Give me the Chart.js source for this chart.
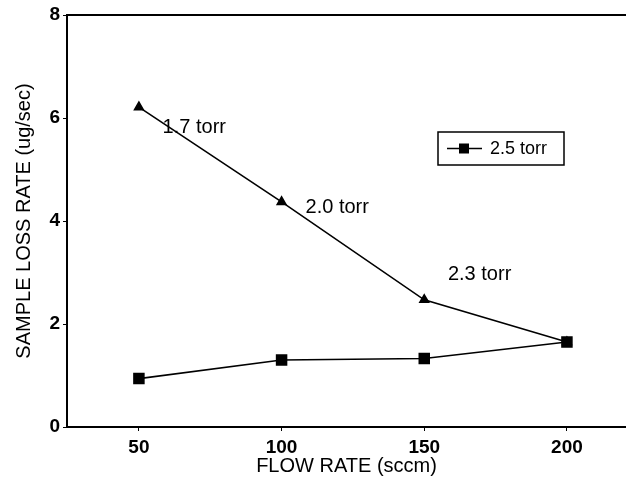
<!DOCTYPE html>
<html>
<head>
<meta charset="utf-8">
<script src="https://cdn.jsdelivr.net/npm/chart.js@4/dist/chart.umd.min.js"></script>
<style>
  html, body { margin: 0; padding: 0; background: #fff; }
  #wrap { width: 626px; height: 480px; }
</style>
</head>
<body>
<div id="wrap"><canvas id="myChart" width="626" height="480"></canvas></div>
<script>
// flow rate (sccm)
var flowRates = [50, 100, 150, 200];
// sample loss rate (ug/sec)
var varPressure = [6.21, 4.37, 2.47, 1.65];   // triangles, pressure changes with flow
var fixedPressure = [0.94, 1.30, 1.33, 1.65]; // squares, 2.5 torr
var xTicks = [50, 100, 150, 200];
var yTicks = [0, 2, 4, 6, 8];
// pressure notes along the triangle curve
var noteText = ["1.7 torr", "2.0 torr", "2.3 torr"];
var noteX = [58.3, 108.4, 158.3];
var noteY = [5.81, 4.26, 2.96];

var FONT = "'Liberation Sans', Arial, sans-serif";

function pts(xs, ys) {
    var out = [];
    for (var i = 0; i < xs.length; i++) out.push({x: xs[i], y: ys[i]});
    return out;
}

var extras = {
    id: 'extras',
    afterDraw: function(c) {
        var ctx = c.ctx, a = c.chartArea, xs = c.scales.x, ys = c.scales.y;
        ctx.save();
        // top frame line
        ctx.strokeStyle = '#000';
        ctx.lineWidth = 2;
        ctx.beginPath();
        ctx.moveTo(a.left, a.top);
        ctx.lineTo(c.width, a.top);
        ctx.stroke();

        // text notes
        ctx.fillStyle = '#000';
        ctx.font = '20px ' + FONT;
        ctx.textBaseline = 'middle';
        ctx.textAlign = 'left';
        for (var i = 0; i < noteText.length; i++) {
            ctx.fillText(noteText[i], xs.getPixelForValue(noteX[i]), ys.getPixelForValue(noteY[i]));
        }

        // legend box
        var lx = 438, ly = 132, lw = 126, lh = 33;
        ctx.lineWidth = 1.5;
        ctx.strokeRect(lx, ly, lw, lh);
        var my = ly + lh / 2;
        ctx.beginPath();
        ctx.moveTo(lx + 9, my);
        ctx.lineTo(lx + 44, my);
        ctx.stroke();
        ctx.fillRect(lx + 21, my - 5, 10, 10);
        ctx.font = '18px ' + FONT;
        ctx.fillText(c.data.datasets[1].label, lx + 52, my + 1);
        ctx.restore();
    }
};

var ctx = document.getElementById('myChart').getContext('2d');
var chart = new Chart(ctx, {
    type: 'line',
    data: {
        datasets: [{
            label: 'variable pressure',
            data: pts(flowRates, varPressure),
            borderColor: '#000',
            backgroundColor: '#000',
            borderWidth: 1.6,
            pointStyle: 'triangle',
            pointRadius: 5,
            tension: 0
        }, {
            label: '2.5 torr',
            data: pts(flowRates, fixedPressure),
            borderColor: '#000',
            backgroundColor: '#000',
            borderWidth: 1.6,
            pointStyle: 'rect',
            pointRadius: 7,
            tension: 0
        }]
    },
    options: {
        responsive: false,
        animation: false,
        layout: { autoPadding: false, padding: { top: 15, right: 0, left: 0, bottom: 0 } },
        plugins: {
            legend: { display: false },
            tooltip: { enabled: false }
        },
        scales: {
            x: {
                type: 'linear',
                min: 24.8,
                max: 220.7,
                afterFit: function(s) { s.height = 53; },
                afterBuildTicks: function(s) { s.ticks = xTicks.map(function(v){ return {value: v}; }); },
                grid: { drawOnChartArea: false, drawTicks: true, tickLength: 4, color: '#000', lineWidth: 1 },
                border: { color: '#000', width: 2 },
                ticks: { color: '#000', font: { family: FONT, size: 19, weight: 'bold' }, padding: 5, maxRotation: 0 },
                title: { display: true, text: 'FLOW RATE (sccm)', color: '#000', font: { family: FONT, size: 20 }, padding: { top: 0, bottom: 2 } }
            },
            y: {
                min: 0,
                max: 8,
                afterFit: function(s) { s.width = 67; },
                afterBuildTicks: function(s) { s.ticks = yTicks.map(function(v){ return {value: v}; }); },
                grid: { drawOnChartArea: false, drawTicks: true, tickLength: 4, color: '#000', lineWidth: 1 },
                border: { color: '#000', width: 2 },
                ticks: { color: '#000', font: { family: FONT, size: 19, weight: 'bold' }, padding: 3 },
                title: { display: true, text: 'SAMPLE LOSS RATE (ug/sec)', color: '#000', font: { family: FONT, size: 20 }, padding: { top: 12, bottom: 0 } }
            }
        }
    },
    plugins: [extras]
});
</script>
</body>
</html>
